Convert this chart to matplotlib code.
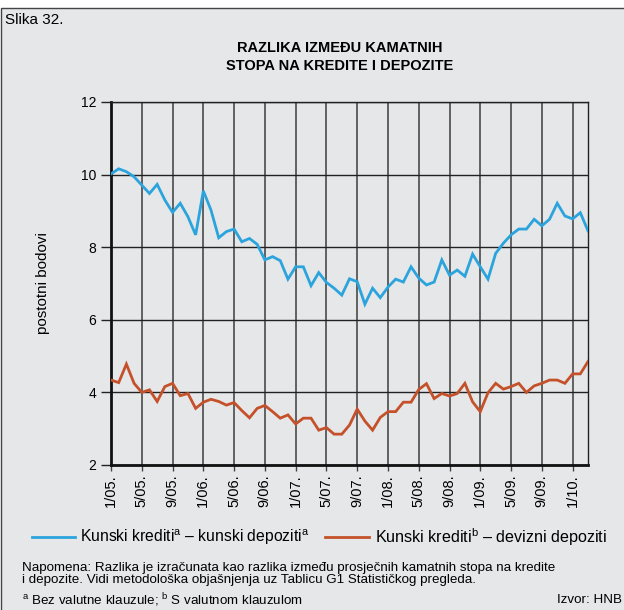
"""Razlika izmedu kamatnih stopa na kredite i depozite (Slika 32)."""

import matplotlib
matplotlib.use("Agg")
import matplotlib.pyplot as plt
from matplotlib.patches import Rectangle

plt.rcParams["font.family"] = ["Liberation Sans", "DejaVu Sans"]
plt.rcParams["mathtext.fontset"] = "custom"
plt.rcParams["mathtext.rm"] = "Liberation Sans"

# monthly, 1/05 .. 3/10
kn_kn = [
    10.02, 10.16, 10.08, 9.94, 9.71, 9.48, 9.73, 9.30, 8.96, 9.21, 8.84, 8.34,
    9.55, 9.02, 8.26, 8.43, 8.50, 8.15, 8.24, 8.08, 7.65, 7.74, 7.63, 7.12,
    7.46, 7.46, 6.94, 7.30, 7.03, 6.87, 6.68, 7.13, 7.05, 6.43, 6.87, 6.61,
    6.90, 7.12, 7.04, 7.46, 7.15, 6.96, 7.04, 7.65, 7.23, 7.37, 7.20, 7.81,
    7.46, 7.12, 7.83, 8.11, 8.34, 8.50, 8.50, 8.77, 8.59, 8.77, 9.21, 8.86,
    8.78, 8.95, 8.45,
]
kn_dev = [
    4.34, 4.27, 4.78, 4.25, 4.00, 4.07, 3.75, 4.16, 4.25, 3.91, 3.97, 3.56,
    3.73, 3.81, 3.75, 3.65, 3.72, 3.50, 3.30, 3.56, 3.64, 3.47, 3.29, 3.38,
    3.13, 3.29, 3.29, 2.96, 3.03, 2.85, 2.85, 3.10, 3.54, 3.21, 2.96, 3.31,
    3.47, 3.47, 3.73, 3.73, 4.08, 4.24, 3.83, 3.97, 3.90, 3.97, 4.25, 3.74,
    3.47, 3.99, 4.25, 4.09, 4.16, 4.25, 4.00, 4.18, 4.25, 4.34, 4.34, 4.25,
    4.51, 4.51, 4.85,
]
tick_labels = ["1/05.", "5/05.", "9/05.", "1/06.", "5/06.", "9/06.", "1/07.",
               "5/07.", "9/07.", "1/08.", "5/08.", "9/08.", "1/09.", "5/09.",
               "9/09.", "1/10."]
y_ticks = [2, 4, 6, 8, 10, 12]

BG = "#e6e7e8"
BLUE = "#2ba4dd"
ORANGE = "#c4512a"

fig = plt.figure(figsize=(6.24, 6.10), dpi=100, facecolor="white")
fig.patches.append(Rectangle((1 / 624, -0.01), 1.0, 1 - 8 / 610 + 0.01,
                             transform=fig.transFigure, facecolor=BG,
                             edgecolor="#444444", linewidth=1.0, zorder=-1))

ax = fig.add_axes([111 / 624, 1 - 465 / 610, (588 - 111) / 624, (465 - 102) / 610])
ax.set_facecolor(BG)

months = list(range(len(kn_kn)))
ax.plot(months, kn_kn, color=BLUE, lw=2.0, zorder=3, solid_joinstyle="miter")
ax.plot(months, kn_dev, color=ORANGE, lw=2.0, zorder=3, solid_joinstyle="miter")

ax.set_xlim(0, len(kn_kn) - 1)
ax.set_ylim(2, 12)
ax.set_yticks(y_ticks)
ax.set_xticks(months[::4])
ax.set_xticklabels(tick_labels, rotation=90, fontsize=10.5)
ax.tick_params(axis="y", labelsize=10, length=7, width=1.0, color="#222222")
ax.tick_params(axis="x", length=4, width=1.0, color="#444444", pad=3)
ax.grid(axis="y", color="#222222", lw=1.0, zorder=1)
ax.grid(axis="x", color="#4a4a4a", lw=1.2, zorder=1)

for side in ["top", "right"]:
    ax.spines[side].set_linewidth(1.0)
    ax.spines[side].set_color("#222222")
for side in ["left", "bottom"]:
    ax.spines[side].set_linewidth(2.0)
    ax.spines[side].set_color("#111111")

ax.set_ylabel("postotni bodovi", fontsize=11, labelpad=22)

fig.text(5 / 624, 1 - 20 / 610, "Slika 32.", fontsize=11, va="center")
fig.text(340 / 624, 1 - 57 / 610, "RAZLIKA IZMEĐU KAMATNIH\nSTOPA NA KREDITE I DEPOZITE",
         fontsize=10.5, fontweight="bold", ha="center", va="center", linespacing=1.35)

# legend drawn by hand to match layout
ly = 1 - 537 / 610
fig.add_artist(plt.Line2D([32 / 624, 75 / 624], [ly, ly], color=BLUE, lw=2.0))
fig.text(80 / 624, ly, r"Kunski krediti$^{\mathrm{a}}$ – kunski depoziti$^{\mathrm{a}}$",
         fontsize=11.3, va="center")
fig.add_artist(plt.Line2D([325 / 624, 369 / 624], [ly, ly], color=ORANGE, lw=2.0))
fig.text(375 / 624, ly, r"Kunski krediti$^{\mathrm{b}}$ – devizni depoziti",
         fontsize=11.6, va="center")

fig.text(22 / 624, 1 - 574 / 610,
         "Napomena: Razlika je izračunata kao razlika između prosječnih kamatnih stopa na kredite\n"
         "i depozite. Vidi metodološka objašnjenja uz Tablicu G1 Statističkog pregleda.",
         fontsize=9.6, va="center", linespacing=1.1)
fig.text(22 / 624, 1 - 600 / 610,
         r"$^{\mathrm{a}}$ Bez valutne klauzule; $^{\mathrm{b}}$ S valutnom klauzulom",
         fontsize=9.6, va="center")
fig.text(622 / 624, 1 - 600 / 610, "Izvor: HNB", fontsize=9.6, va="center", ha="right")

fig.savefig("out.png", dpi=100, facecolor=fig.get_facecolor())
